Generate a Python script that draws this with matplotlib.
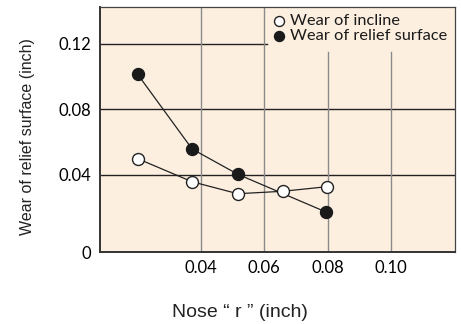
import matplotlib
matplotlib.use('Agg')
import matplotlib.pyplot as plt

# data
nose_r_relief = [0.020, 0.0372, 0.0517, 0.0795]
wear_relief = [0.1013, 0.0557, 0.0402, 0.0172]
nose_r_incline = [0.020, 0.0372, 0.0516, 0.0659, 0.0798]
wear_incline = [0.0498, 0.0357, 0.0284, 0.0299, 0.0327]
x_ticks = [0.04, 0.06, 0.08, 0.10]
x_tick_labels = ['0.04', '0.06', '0.08', '0.10']
y_ticks = [0.04, 0.08, 0.12]
y_tick_labels = ['0.04', '0.08', '0.12']

ymin, ymax = -0.0072, 0.1424
xmin, xmax = 0.0081, 0.1202

fig = plt.figure(figsize=(4.61, 3.24), dpi=100)
ax = fig.add_axes([0.2169, 0.2222, 0.770, 0.756])
ax.set_facecolor('#fcefdf')
ax.set_xlim(xmin, xmax)
ax.set_ylim(ymin, ymax)

# grid, drawn by hand since it is partial
for y in y_ticks[:2]:
    ax.axhline(y, color='#222222', lw=1.0, zorder=1)
ax.plot([xmin, 0.0608], [0.12, 0.12], color='#222222', lw=1.0, zorder=1)
for x in x_ticks[:2]:
    ax.axvline(x, color='#8a8a8a', lw=1.0, zorder=1)
for x in x_ticks[2:]:
    ax.plot([x, x], [ymin, 0.115], color='#8a8a8a', lw=1.0, zorder=1)

ax.plot(nose_r_relief, wear_relief, color='#222222', lw=0.9, marker='o',
        ms=8.6, mfc='#1a1a1a', mec='#1a1a1a', zorder=3,
        label='Wear of relief surface')
ax.plot(nose_r_incline, wear_incline, color='#222222', lw=0.9, marker='o',
        ms=8.6, mfc='white', mec='#222222', mew=1.0, zorder=4,
        label='Wear of incline')

# legend
ax.plot([0.503 * (xmax - xmin) + xmin], [ymax - 0.057 * (ymax - ymin)], 'o',
        ms=7.2, mfc='white', mec='#222222', mew=1.0, clip_on=False, zorder=5)
ax.plot([0.503 * (xmax - xmin) + xmin], [ymax - 0.118 * (ymax - ymin)], 'o',
        ms=7.2, mfc='#1a1a1a', mec='#1a1a1a', clip_on=False, zorder=5)
ax.text(0.535, 1 - 0.057, 'Wear of incline', transform=ax.transAxes,
        fontsize=11.8, family='Lato', va='center', ha='left', color='#1a1a1a')
ax.text(0.535, 1 - 0.118, 'Wear of relief surface', transform=ax.transAxes,
        fontsize=11.8, family='Lato', va='center', ha='left', color='#1a1a1a')

ax.set_xticks(x_ticks)
ax.set_xticklabels(x_tick_labels, family='Lato', fontsize=12)
ax.set_yticks([ymin] + y_ticks)
ax.set_yticklabels(['0'] + y_tick_labels, family='Lato', fontsize=12)
ax.tick_params(length=0, pad=6.5)
ax.tick_params(axis='x', pad=6)

for s in ['left', 'bottom']:
    ax.spines[s].set_linewidth(1.4)
    ax.spines[s].set_color('#333333')
for s in ['top', 'right']:
    ax.spines[s].set_linewidth(0.9)
    ax.spines[s].set_color('#444444')

fig.text(0.059, 0.58, 'Wear of relief surface (inch)', rotation=90,
         ha='center', va='center', fontsize=11.5, family='Liberation Sans',
         color='#222222')
fig.text(0.521, 0.037, 'Nose \u201c r \u201d (inch)', ha='center', va='center',
         fontsize=14, family='Liberation Sans', color='#222222')

fig.savefig('out.png', dpi=100)
